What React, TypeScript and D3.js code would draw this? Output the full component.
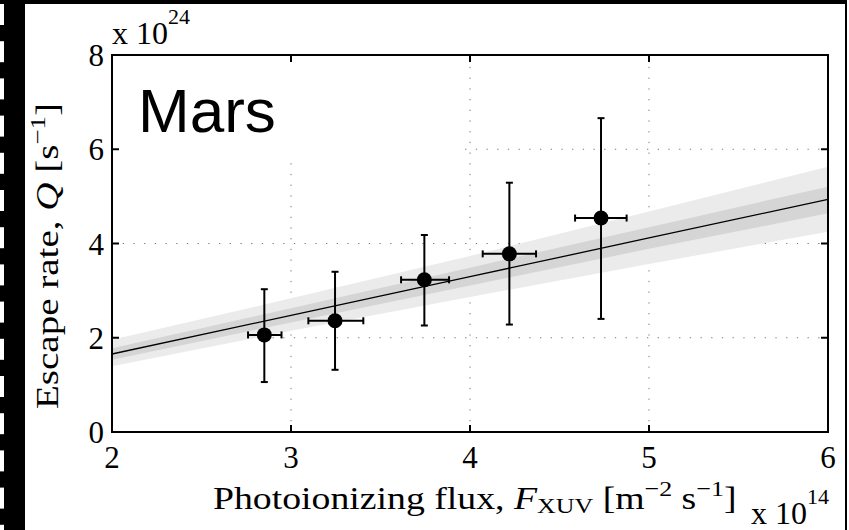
import React from "react";
import * as d3 from "d3";

// Data (flux in 1e14 m^-2 s^-1, escape rate in 1e24 s^-1)
const fluxX = [2.851, 3.246, 3.745, 4.22, 4.732];
const fluxLo = [2.76, 3.097, 3.615, 4.071, 4.587];
const fluxHi = [2.947, 3.404, 3.883, 4.369, 4.875];
const rateQ = [2.06, 2.36, 3.23, 3.78, 4.54];
const rateLo = [1.06, 1.32, 2.26, 2.28, 2.4];
const rateHi = [3.03, 3.4, 4.18, 5.29, 6.66];

// Fit and confidence bands
const bandX = [2, 3, 4, 5, 6];
const fitQ = [1.655, 2.476, 3.297, 4.117, 4.938];
const innerLo = [1.535, 2.326, 3.107, 3.887, 4.641];
const innerHi = [1.775, 2.626, 3.487, 4.347, 5.205];
const outerLo = [1.395, 2.146, 2.867, 3.567, 4.25];
const outerHi = [1.955, 2.836, 3.737, 4.677, 5.63];

const xTicks = [2, 3, 4, 5, 6];
const yTicks = [0, 2, 4, 6, 8];
const xGrid = [3, 4, 5];
const yGrid = [2, 4, 6];

const W = 849;
const H = 530;
const L = 112, R = 828, T = 55, B = 432;

export default function App() {
  const x = d3.scaleLinear().domain([2, 6]).range([L, R]);
  const y = d3.scaleLinear().domain([0, 8]).range([B, T]);

  const area = (lo: number[], hi: number[]) =>
    d3
      .area<number>()
      .x((_, i) => x(bandX[i]))
      .y0((_, i) => y(lo[i]))
      .y1((_, i) => y(hi[i]))(bandX) || "";
  const fitLine =
    d3
      .line<number>()
      .x((_, i) => x(bandX[i]))
      .y((_, i) => y(fitQ[i]))(bandX) || "";

  const serif = "'Liberation Serif', 'Times New Roman', serif";
  const tickLen = 7;
  const cap = 3.5;

  // left film-strip border
  const holes: number[] = [];
  for (let yy = 4; yy < H; yy += 37.2) holes.push(yy);

  return (
    <svg
      width={W}
      height={H}
      style={{ position: "absolute", left: 0, top: 0, background: "#fff" }}
    >
      <rect x={0} y={0} width={W} height={H} fill="#fff" />
      {/* border decorations */}
      <rect x={0} y={0} width={847} height={4} fill="#000" />
      <rect x={0} y={0} width={25} height={H} fill="#000" />
      {holes.map((h, i) => (
        <rect key={i} x={0} y={h} width={4} height={21} fill="#fff" />
      ))}
      <rect x={845} y={0} width={2} height={H} fill="#000" />

      {/* grid */}
      {yGrid.map((v) => (
        <line
          key={"gy" + v}
          x1={L}
          x2={R}
          y1={y(v)}
          y2={y(v)}
          stroke="#7a7a7a"
          strokeWidth={1}
          strokeDasharray="1.3,9.4"
        />
      ))}
      {xGrid.map((v) => (
        <line
          key={"gx" + v}
          x1={x(v)}
          x2={x(v)}
          y1={B}
          y2={T}
          stroke="#7a7a7a"
          strokeWidth={1}
          strokeDasharray="1.3,9.4"
        />
      ))}

      {/* bands */}
      <path d={area(outerLo, outerHi)} fill="#ebebeb" />
      <path d={area(innerLo, innerHi)} fill="#d5d5d5" />
      <path d={fitLine} fill="none" stroke="#000" strokeWidth={1.3} />

      {/* white text box */}
      <rect x={L + 1} y={T + 1} width={352} height={102} fill="#fff" />
      <text
        x={138}
        y={132}
        fontFamily="'Liberation Sans', Arial, sans-serif"
        fontSize={62}
        fill="#000"
      >
        Mars
      </text>

      {/* error bars */}
      {fluxX.map((fx, i) => {
        const cx = x(fx);
        const cy = y(rateQ[i]);
        return (
          <g key={"p" + i} stroke="#000" strokeWidth={2}>
            <line x1={cx} x2={cx} y1={y(rateLo[i])} y2={y(rateHi[i])} />
            <line x1={cx - cap} x2={cx + cap} y1={y(rateLo[i])} y2={y(rateLo[i])} />
            <line x1={cx - cap} x2={cx + cap} y1={y(rateHi[i])} y2={y(rateHi[i])} />
            <line x1={x(fluxLo[i])} x2={x(fluxHi[i])} y1={cy} y2={cy} />
            <line x1={x(fluxLo[i])} x2={x(fluxLo[i])} y1={cy - cap} y2={cy + cap} />
            <line x1={x(fluxHi[i])} x2={x(fluxHi[i])} y1={cy - cap} y2={cy + cap} />
            <circle cx={cx} cy={cy} r={7.5} fill="#000" stroke="none" />
          </g>
        );
      })}

      {/* axes frame */}
      <rect x={L} y={T} width={R - L} height={B - T} fill="none" stroke="#000" strokeWidth={2} />
      {xTicks.map((v) => (
        <g key={"xt" + v} stroke="#000" strokeWidth={2}>
          <line x1={x(v)} x2={x(v)} y1={B} y2={B - tickLen} />
          <line x1={x(v)} x2={x(v)} y1={T} y2={T + tickLen} />
        </g>
      ))}
      {yTicks.map((v) => (
        <g key={"yt" + v} stroke="#000" strokeWidth={2}>
          <line x1={L} x2={L + tickLen} y1={y(v)} y2={y(v)} />
          <line x1={R} x2={R - tickLen} y1={y(v)} y2={y(v)} />
        </g>
      ))}

      {/* tick labels */}
      {xTicks.map((v) => (
        <text
          key={"xl" + v}
          x={x(v)}
          y={468}
          textAnchor="middle"
          fontFamily={serif}
          fontSize={31}
          fill="#000"
        >
          {v}
        </text>
      ))}
      {yTicks.map((v) => (
        <text
          key={"yl" + v}
          x={104}
          y={y(v) + 11}
          textAnchor="end"
          fontFamily={serif}
          fontSize={31}
          fill="#000"
        >
          {v}
        </text>
      ))}

      {/* exponent labels */}
      <text x={112} y={44} fontFamily={serif} fontSize={32} fill="#000">
        x 10
        <tspan dy={-20} fontSize={22}>24</tspan>
      </text>
      <text x={751} y={524} fontFamily={serif} fontSize={32} fill="#000">
        x 10
        <tspan dy={-20} fontSize={22}>14</tspan>
      </text>

      {/* axis titles */}
      <text
        transform="translate(213,509) scale(1.18,1)"
        fontFamily={serif}
        fontSize={32}
        fill="#000"
      >
        Photoionizing flux,{" "}
        <tspan fontStyle="italic">F</tspan>
        <tspan fontSize={22} dy={4}>XUV</tspan>
        <tspan dy={-4}> [m</tspan>
        <tspan fontSize={22} dy={-13}>−2</tspan>
        <tspan dy={13}> s</tspan>
        <tspan fontSize={22} dy={-13}>−1</tspan>
        <tspan dy={13}>]</tspan>
      </text>
      <text
        transform="translate(58,256) rotate(-90) scale(1.22,1)"
        textAnchor="middle"
        fontFamily={serif}
        fontSize={32}
        fill="#000"
      >
        Escape rate,{" "}
        <tspan fontStyle="italic">Q</tspan>
        <tspan> [s</tspan>
        <tspan fontSize={22} dy={-13}>−1</tspan>
        <tspan dy={13}>]</tspan>
      </text>
    </svg>
  );
}
